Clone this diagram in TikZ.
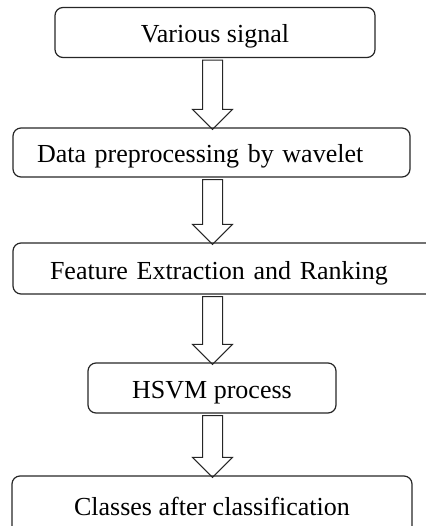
\documentclass[tikz,border=0pt]{standalone}
\usepackage{fontspec}
\setmainfont{Liberation Serif}
\usetikzlibrary{calc}

% hollow block arrow from the bottom of #1 to the top of #2
\newcommand{\blockarrow}[2]{%
  \draw[hollow] ($(#1.south -| axis)+(-10pt,-2pt)$) -- ($(#1.south -| axis)+(10pt,-2pt)$)
    -- ($(#2.north -| axis)+(10pt,18pt)$) -- ($(#2.north -| axis)+(20pt,18pt)$)
    -- ($(#2.north -| axis)+(0pt,-2pt)$) -- ($(#2.north -| axis)+(-20pt,18pt)$)
    -- ($(#2.north -| axis)+(-10pt,18pt)$) -- cycle;}

\begin{document}
\begin{tikzpicture}[x=1pt,y=1pt,
  stage/.style={draw=black!85, line width=1.2pt, rounded corners=8pt,
    minimum height=50pt, align=center, inner sep=0pt,
    text height=22pt, text depth=1pt,
    font=\fontsize{26pt}{30pt}\selectfont},
  hollow/.style={draw=black!85, line width=1pt, line join=miter}]
\useasboundingbox (0,0) rectangle (425,-526);
% define the stages
  \node[stage, minimum width=320pt]  (sig) at (215,-32.5)  {Various signal};
  \node[stage, text width=349pt, align=left, inner xsep=24pt, minimum height=49pt]
        (pre) [below of=sig, node distance=120pt, xshift=-3.5pt]  {Data preprocessing by wavelet};
  \node[stage, text width=366pt, align=left, inner xsep=37pt, minimum height=51pt]
        (feat) [below of=pre, node distance=116pt, xshift=21.5pt]  {Feature Extraction and Ranking};
  \node[stage, minimum width=248pt]  (hsvm) [below of=feat, node distance=119.5pt, xshift=-21pt]  {HSVM process};
  \node[stage, minimum width=400pt, minimum height=58pt]
        (cls) [below of=hsvm, node distance=117pt]  {Classes after classification};

  \coordinate (axis) at (212.5,0);

% define the links
  \blockarrow{sig}{pre}
  \blockarrow{pre}{feat}
  \blockarrow{feat}{hsvm}
  \blockarrow{hsvm}{cls}

\end{tikzpicture}
\end{document}
